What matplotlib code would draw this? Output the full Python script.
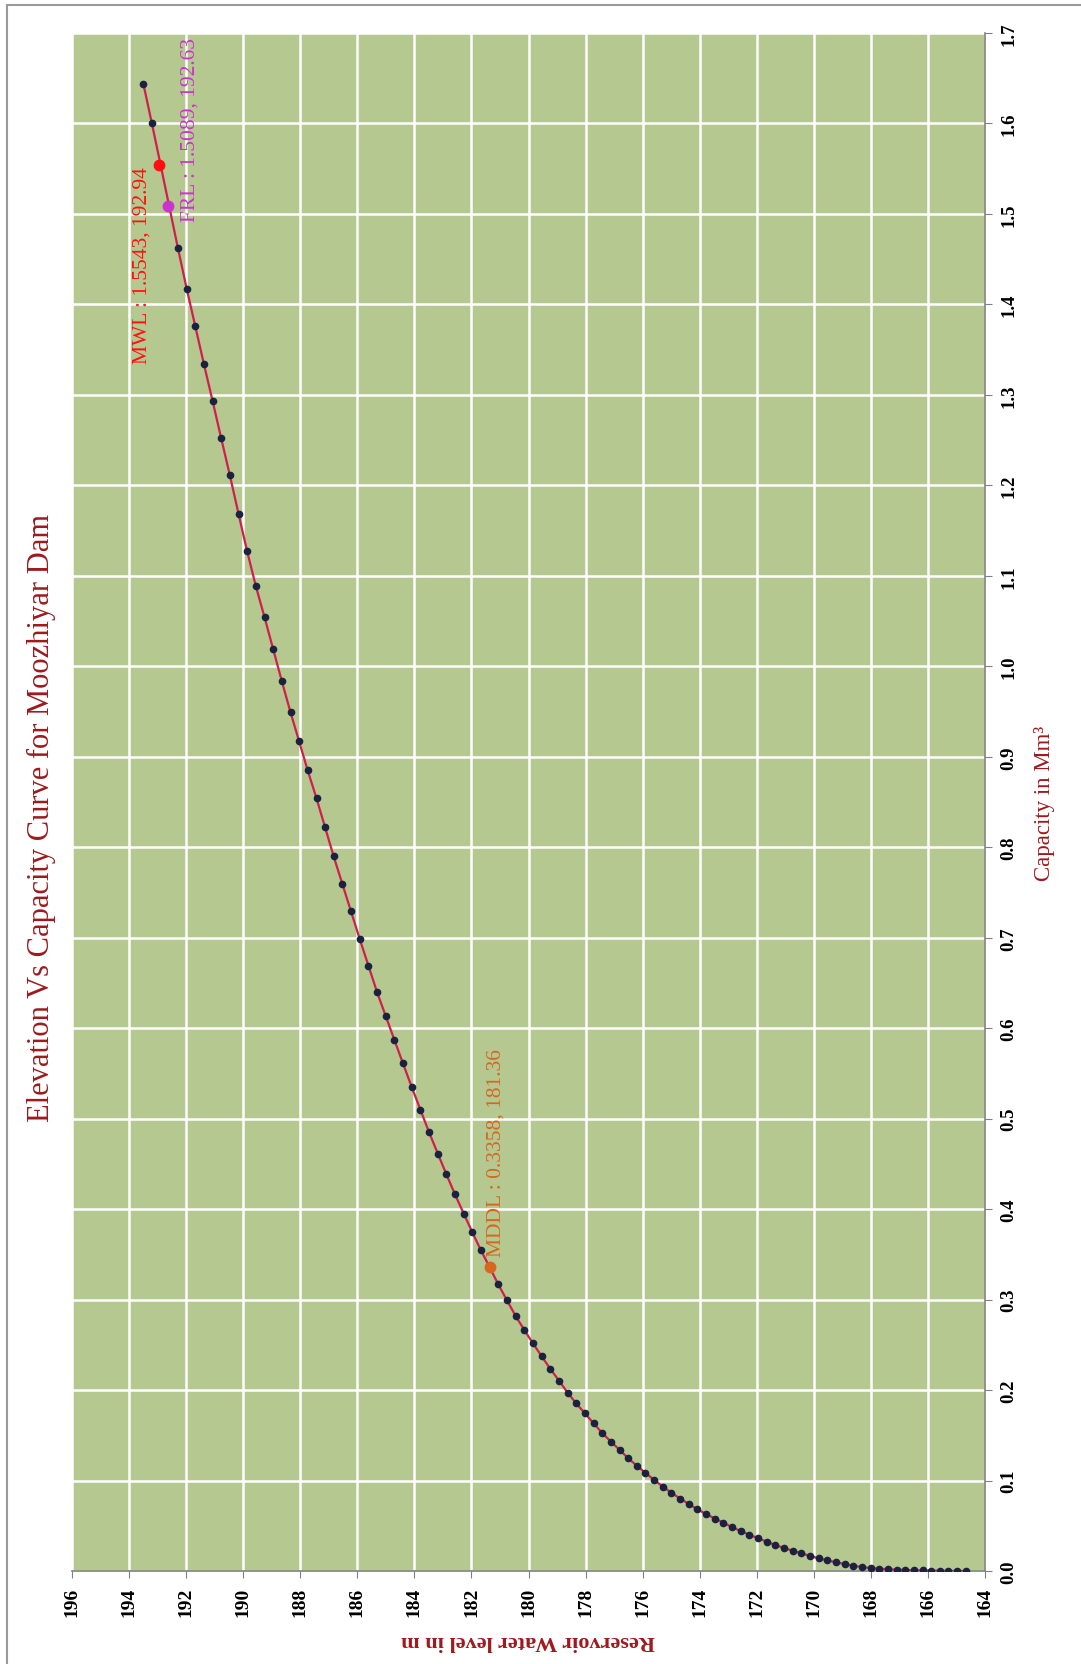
import matplotlib.pyplot as plt
from matplotlib.patches import Rectangle

# elevation (m) and capacity (Mm3)
elevacion = [164.67, 164.97, 165.28, 165.58, 165.88, 166.19, 166.49, 166.79, 167.10, 167.40,
             167.71, 168.01, 168.31, 168.62, 168.92, 169.22, 169.53, 169.83, 170.13, 170.44,
             170.74, 171.04, 171.35, 171.65, 171.95, 172.26, 172.56, 172.86, 173.17, 173.47,
             173.78, 174.08, 174.38, 174.69, 174.99, 175.29, 175.60, 175.90, 176.20, 176.51,
             176.81, 177.11, 177.42, 177.72, 178.02, 178.33, 178.63, 178.93, 179.24, 179.54,
             179.85, 180.15, 180.45, 180.76, 181.06, 181.36, 181.67, 181.97, 182.27, 182.58,
             182.88, 183.18, 183.49, 183.79, 184.09, 184.40, 184.70, 185.00, 185.31, 185.61,
             185.92, 186.22, 186.52, 186.83, 187.13, 187.43, 187.74, 188.04, 188.34, 188.65,
             188.95, 189.25, 189.56, 189.86, 190.16, 190.47, 190.77, 191.07, 191.38, 191.68,
             191.98, 192.29, 192.59, 192.90, 193.20, 193.50]
capacidad = [0.0, 0.0, 0.0001, 0.0002, 0.0004, 0.0006, 0.0008, 0.0011, 0.0015, 0.0019,
             0.0025, 0.0033, 0.0044, 0.0059, 0.0077, 0.0096, 0.0118, 0.0140, 0.0166, 0.0196,
             0.0224, 0.0254, 0.0287, 0.0324, 0.0361, 0.0401, 0.0442, 0.0483, 0.0534, 0.0580,
             0.0630, 0.0681, 0.0741, 0.0801, 0.0865, 0.0932, 0.1008, 0.1084, 0.1163, 0.1247,
             0.1339, 0.1430, 0.1526, 0.1633, 0.1741, 0.1853, 0.1972, 0.2104, 0.2235, 0.2375,
             0.2519, 0.2665, 0.2818, 0.2995, 0.3167, 0.3358, 0.3546, 0.3745, 0.3950, 0.4165,
             0.4386, 0.4614, 0.4853, 0.5100, 0.5347, 0.5611, 0.5870, 0.6130, 0.6400, 0.6690,
             0.6990, 0.7290, 0.7590, 0.7900, 0.8220, 0.8540, 0.8850, 0.9170, 0.9490, 0.9840,
             1.0190, 1.0540, 1.0890, 1.1270, 1.1680, 1.2115, 1.2519, 1.2930, 1.3345, 1.3760,
             1.4173, 1.4626, 1.5080, 1.5550, 1.6000, 1.6440]

# niveles: nombre, capacidad, elevacion
niveles = [("MWL", 1.5543, 192.94), ("FRL", 1.5089, 192.63), ("MDDL", 0.3358, 181.36)]
colores_nivel = {"MWL": "#FF1010", "FRL": "#CC33CC", "MDDL": "#D9661F"}

ticks_elev = list(range(196, 163, -2))
ticks_cap = [i / 10 for i in range(18)]

serif = ["Liberation Serif", "DejaVu Serif"]
plt.rcParams['font.family'] = serif

fig = plt.figure(figsize=(10.81, 16.65), dpi=100)
ax = fig.add_axes([72 / 1081, 1 - 1572 / 1665, 913 / 1081, 1538 / 1665])
ax.set_facecolor("#B4C88F")

# marco gris del area del grafico
fig.patches.append(Rectangle((7 / 1081, -0.05), 1.2, 1 - 6 / 1665 + 0.05, transform=fig.transFigure,
                             fill=False, edgecolor="#9A9A9A", linewidth=1.5))

ax.plot(elevacion, capacidad, color="#D01E4E", linewidth=1.6, marker="o", markersize=4.5,
        markerfacecolor="#1B2240", markeredgecolor="#1B2240", zorder=3)

for nombre, cap, elev in niveles:
    ax.plot(elev, cap, "o", color=colores_nivel[nombre], markersize=7.5, zorder=4)

ax.text(193.55, 1.553, "MWL : 1.5543, 192.94", rotation=90, ha="center", va="top",
        color=colores_nivel["MWL"], fontsize=15.5)
ax.text(191.88, 1.492, "FRL : 1.5089, 192.63", rotation=90, ha="center", va="bottom",
        color=colores_nivel["FRL"], fontsize=15.5)
ax.text(181.12, 0.348, "MDDL : 0.3358, 181.36", rotation=90, ha="center", va="bottom",
        color=colores_nivel["MDDL"], fontsize=15.5)

ax.set_xlim(196, 164)
ax.set_ylim(0, 1.7)
ax.set_xticks(ticks_elev)
ax.set_xticklabels([str(t) for t in ticks_elev], rotation=90, fontsize=14, fontweight="bold")
ax.set_yticks(ticks_cap)
ax.set_yticklabels([f"{t:.1f}" for t in ticks_cap], rotation=90, fontsize=13.5,
                   fontweight="bold", va="center")
ax.yaxis.tick_right()
ax.yaxis.set_label_position("right")
ax.grid(True, color="white", linewidth=1.8, zorder=1)
ax.set_axisbelow(True)

for lado in ["top", "left"]:
    ax.spines[lado].set_visible(False)
for lado in ["bottom", "right"]:
    ax.spines[lado].set_color("#808080")
    ax.spines[lado].set_linewidth(1.2)
ax.tick_params(axis="both", direction="out", length=5, color="#808080", pad=6)

ax.set_xlabel("Reservoir Water level in m", rotation=180, fontsize=16, fontweight="bold",
              color="#A0191C", labelpad=10)
ax.set_ylabel("Capacity in Mm³", rotation=90, fontsize=16.5, color="#A0191C", labelpad=12)

fig.text(41 / 1081, 1 - 818 / 1665, "Elevation Vs Capacity Curve for Moozhiyar Dam", rotation=90,
         ha="center", va="center", fontsize=22, color="#9A1B1E")

fig.savefig("out.png", dpi=100)
